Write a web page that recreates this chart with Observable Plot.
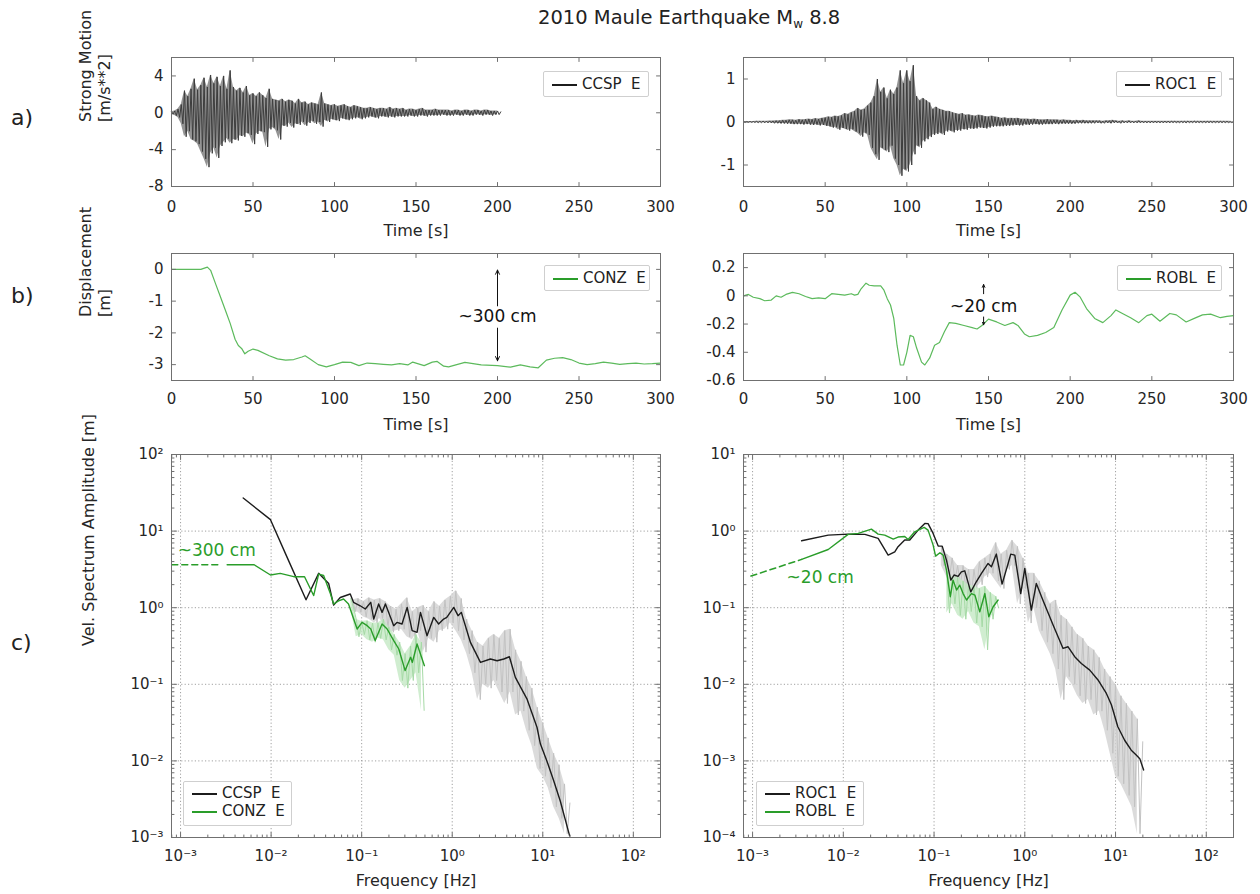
<!DOCTYPE html>
<html><head><meta charset="utf-8">
<script src="https://cdn.jsdelivr.net/npm/d3@7"></script>
<script src="https://cdn.jsdelivr.net/npm/@observablehq/plot@0.6"></script>
<style>
body{margin:0;background:#fff;font-family:"DejaVu Sans",sans-serif;color:#222}
#root{position:relative;width:1260px;height:894px;overflow:hidden;background:#fff}
.lbl{position:absolute;white-space:pre;line-height:1}
.legend{position:absolute;background:#fff;border:1px solid #cfcfcf;border-radius:2px;font-size:15px;color:#222;box-sizing:border-box}
.legend .row{position:absolute;white-space:pre;line-height:1}
.legend .ln{position:absolute;height:0;border-top:2px solid #111}
</style></head><body><div id="root"></div>
<script>
// ---------------- DATA ----------------
const timeTicks = [0, 50, 100, 150, 200, 250, 300];
const ccspTicksY = [4, 0, -4, -8];
const roc1TicksY = [1, 0, -1];
const conzTicksY = [0, -1, -2, -3];
const roblTicksY = [0.2, 0, -0.2, -0.4, -0.6];
const freqTicks = [1e-3, 1e-2, 1e-1, 1, 10, 100];
const freqTickLabels = ["10\u207B\u00B3", "10\u207B\u00B2", "10\u207B\u00B9", "10\u2070", "10\u00B9", "10\u00B2"];
const ampTicksLeft = [1e-3, 1e-2, 1e-1, 1, 10, 100];
const ampTickLabelsLeft = ["10\u207B\u00B3", "10\u207B\u00B2", "10\u207B\u00B9", "10\u2070", "10\u00B9", "10\u00B2"];
const ampTicksRight = [1e-4, 1e-3, 1e-2, 1e-1, 1, 10];
const ampTickLabelsRight = ["10\u207B\u2074", "10\u207B\u00B3", "10\u207B\u00B2", "10\u207B\u00B9", "10\u2070", "10\u00B9"];

// a) strong motion, peak values every 1 s (alternating up/down swings) [m/s^2]
const ccspStep = 1;
const ccspAcc = [
 0.1,-0.15,0.2,-0.3,0.4,-0.5,0.9,-1.2,2.4,-2.6,
 1.8,-2.0,2.6,-2.9,3.7,-3.1,2.5,-3.4,3.0,-4.2,
 3.8,-5.0,2.8,-5.9,4.1,-4.4,3.2,-3.8,3.9,-4.9,
 2.9,-3.6,4.0,-3.2,2.6,-2.8,4.6,-3.3,2.8,-2.9,
 2.4,-3.0,2.7,-2.5,2.2,-2.6,2.9,-2.2,1.9,-2.4,
 2.1,-3.4,1.8,-2.3,2.2,-2.0,1.9,-2.1,1.6,-3.7,
 2.6,-1.8,1.5,-1.6,1.4,-1.9,1.3,-2.9,1.5,-1.4,
 1.2,-1.5,1.4,-1.1,1.3,-1.6,1.0,-1.2,1.5,-1.3,
 1.1,-1.0,1.2,-1.4,0.9,-1.1,1.1,-0.9,1.0,-1.2,
 0.9,-1.0,2.2,-1.5,1.0,-0.8,0.9,-1.0,0.8,-0.7,
 0.9,-0.8,0.7,-0.9,0.8,-0.6,0.9,-0.7,0.7,-0.8,
 0.6,-0.7,0.8,-0.6,0.7,-0.5,0.6,-0.7,0.5,-0.6,
 0.5,-0.5,0.6,-0.4,0.5,-0.5,0.4,-0.6,0.5,-0.4,
 0.5,-0.4,0.4,-0.5,0.6,-0.4,0.4,-0.5,0.5,-0.4,
 0.4,-0.4,0.5,-0.4,0.3,-0.4,0.4,-0.3,0.4,-0.4,
 0.3,-0.4,0.4,-0.3,0.5,-0.3,0.3,-0.4,0.3,-0.3,
 0.3,-0.3,0.4,-0.3,0.3,-0.3,0.3,-0.2,0.3,-0.3,
 0.3,-0.3,0.2,-0.3,0.3,-0.2,0.3,-0.3,0.2,-0.3,
 0.3,-0.2,0.3,-0.3,0.2,-0.3,0.3,-0.2,0.3,-0.2,
 0.2,-0.3,0.3,-0.2,0.3,-0.2,0.2,-0.3,0.2,-0.2,
 0.2,-0.2,0.1
];
const roc1Step = 1;
const roc1Acc = [
 0.01,-0.01,0.01,-0.01,0.01,-0.01,0.01,-0.01,0.015,-0.015,
 0.015,-0.015,0.02,-0.02,0.02,-0.02,0.025,-0.02,0.025,-0.03,
 0.03,-0.03,0.03,-0.035,0.04,-0.035,0.04,-0.04,0.05,-0.04,
 0.05,-0.05,0.04,-0.05,0.06,-0.05,0.05,-0.06,0.06,-0.05,
 0.07,-0.06,0.06,-0.07,0.08,-0.06,0.07,-0.08,0.09,-0.07,
 0.1,-0.09,0.12,-0.1,0.11,-0.13,0.14,-0.12,0.13,-0.18,
 0.15,-0.14,0.2,-0.16,0.18,-0.2,0.22,-0.17,0.25,-0.22,
 0.32,-0.26,0.28,-0.34,0.3,-0.25,0.38,-0.3,0.45,-0.6,
 0.6,-0.75,1.0,-0.88,0.7,-0.6,0.8,-0.65,0.55,-0.7,
 0.75,-0.55,0.65,-0.85,0.8,-1.0,1.2,-1.25,0.9,-1.1,
 1.2,-1.15,0.95,-1.0,1.32,-0.75,0.6,-0.55,0.5,-0.6,
 0.55,-0.45,0.5,-0.4,0.45,-0.35,0.3,-0.3,0.35,-0.28,
 0.3,-0.25,0.28,-0.3,0.25,-0.22,0.25,-0.2,0.22,-0.24,
 0.2,-0.2,0.18,-0.2,0.2,-0.17,0.16,-0.18,0.17,-0.15,
 0.15,-0.16,0.14,-0.15,0.16,-0.13,0.15,-0.14,0.13,-0.15,
 0.12,-0.13,0.14,-0.11,0.12,-0.1,0.11,-0.1,0.09,-0.1,
 0.1,-0.09,0.08,-0.09,0.09,-0.08,0.08,-0.07,0.09,-0.08,
 0.07,-0.08,0.07,-0.06,0.07,-0.07,0.06,-0.06,0.07,-0.05,
 0.06,-0.06,0.05,-0.06,0.05,-0.05,0.06,-0.05,0.05,-0.05,
 0.05,-0.04,0.05,-0.05,0.04,-0.04,0.05,-0.04,0.04,-0.04,
 0.04,-0.04,0.03,-0.04,0.04,-0.03,0.03,-0.03,0.04,-0.03,
 0.03,-0.03,0.03,-0.03,0.03,-0.03,0.03,-0.02,0.03,-0.03,
 0.02,-0.03,0.03,-0.02,0.03,-0.03,0.04,-0.02,0.03,-0.02,
 0.02,-0.03,0.03,-0.02,0.02,-0.02,0.03,-0.02,0.02,-0.02,
 0.02,-0.02,0.03,-0.02,0.02,-0.02,0.02,-0.02,0.02,-0.02,
 0.02,-0.02,0.02,-0.02,0.02,-0.02,0.02,-0.02,0.02,-0.02,
 0.02,-0.02,0.02,-0.015,0.02,-0.02,0.015,-0.02,0.02,-0.015,
 0.015,-0.02,0.02,-0.015,0.015,-0.015,0.02,-0.015,0.015,-0.015,
 0.015,-0.015,0.015,-0.015,0.015,-0.015,0.015,-0.015,0.015,-0.015,
 0.015,-0.015,0.015,-0.015,0.015,-0.015,0.015,-0.015,0.015,-0.015,
 0.01
];

// b) displacement [m]
const conzT = [0,18,22,24,27,30,33,36,39,41,43,45,47,50,53,60,65,70,75,80,82,85,90,95,100,105,110,115,120,125,130,135,140,145,148,155,160,163,167,170,175,180,185,190,200,208,214,220,225,230,235,240,245,250,255,260,265,270,275,280,285,290,295,300];
const conzD = [0,0,0.07,-0.03,-0.45,-0.86,-1.28,-1.7,-2.2,-2.4,-2.49,-2.66,-2.58,-2.51,-2.55,-2.72,-2.82,-2.86,-2.84,-2.76,-2.72,-2.82,-3.0,-3.07,-3.0,-2.92,-2.93,-3.03,-2.95,-2.97,-2.99,-3.01,-2.97,-3.01,-2.92,-3.03,-2.92,-2.9,-3.05,-3.07,-3.0,-2.93,-2.97,-3.01,-3.03,-3.08,-3.01,-3.07,-3.1,-2.86,-2.8,-2.78,-2.84,-2.95,-3.0,-2.97,-2.92,-2.95,-2.99,-2.97,-2.95,-2.98,-2.97,-2.95];
const roblT = [0,3,6,10,13,17,20,23,26,30,34,38,42,46,50,54,58,62,66,68,70,72,75,77,80,84,86,88,90,92,94,96,98,100,102,104,106,109,111,114,117,120,123,126,130,135,140,143,146,150,155,160,165,168,172,175,180,185,190,195,200,203,206,210,215,220,225,228,232,237,242,247,250,255,261,265,271,276,281,286,292,296,300];
const roblD = [0,0.01,-0.01,-0.02,-0.035,-0.03,0,-0.01,0.01,0.025,0.015,-0.005,-0.02,-0.015,-0.02,0.015,0.01,0.005,0.015,0.005,0.01,0.05,0.09,0.075,0.07,0.07,0.04,-0.02,-0.065,-0.16,-0.35,-0.49,-0.49,-0.4,-0.28,-0.29,-0.37,-0.47,-0.49,-0.44,-0.35,-0.33,-0.255,-0.19,-0.195,-0.21,-0.225,-0.235,-0.21,-0.165,-0.185,-0.21,-0.19,-0.21,-0.27,-0.29,-0.28,-0.26,-0.225,-0.1,0.005,0.025,-0.007,-0.09,-0.16,-0.19,-0.14,-0.1,-0.125,-0.155,-0.19,-0.14,-0.13,-0.18,-0.125,-0.135,-0.185,-0.16,-0.135,-0.13,-0.155,-0.145,-0.14];

// c) velocity spectrum amplitude [m], smoothed
const ccspF = [0.00492,0.00984,0.01503,0.0243,0.0335,0.0432,0.049,0.058,0.0748,0.0813,0.0964,0.1096,0.126,0.136,0.154,0.168,0.183,0.226,0.245,0.279,0.318,0.361,0.409,0.446,0.527,0.625,0.708,0.804,0.871,1.04,1.16,1.26,1.59,2.05,2.64,3.13,3.71,4.28,4.98,6.68,8.63,9.42,11.1,13.2,15.6,19.8];
const ccspA = [27.0,14.1,4.54,1.27,2.81,2.07,1.08,1.36,1.51,1.175,1.06,0.962,1.175,0.711,1.117,0.869,1.117,0.582,0.643,0.612,1.01,0.501,0.476,0.869,0.431,0.748,0.612,0.711,0.748,1.01,0.787,0.869,0.352,0.193,0.214,0.203,0.214,0.229,0.123,0.0646,0.0275,0.0166,0.01,0.0055,0.003,0.00105];
const conzF = [0.00327,0.0065,0.00984,0.0126,0.0178,0.0234,0.0295,0.0335,0.038,0.0453,0.049,0.0556,0.0631,0.0716,0.0891,0.101,0.115,0.126,0.141,0.168,0.191,0.226,0.257,0.302,0.347,0.363,0.409,0.493];
const conzA = [3.64,3.64,2.67,2.81,2.54,2.54,1.44,2.75,2.63,1.51,1.117,1.23,1.30,1.117,0.527,0.643,0.582,0.527,0.372,0.612,0.527,0.372,0.289,0.151,0.225,0.193,0.336,0.175];
const conzExtF = [0.0008, 0.0028];
const conzExtA = [3.64, 3.64];
const roc1F = [0.00347,0.00682,0.0113,0.0173,0.0242,0.0312,0.0369,0.0401,0.0475,0.054,0.0668,0.0791,0.0859,0.0977,0.111,0.123,0.137,0.153,0.166,0.184,0.2,0.218,0.254,0.292,0.333,0.394,0.429,0.486,0.562,0.655,0.7,0.776,0.902,1.0,1.18,1.34,1.58,2.05,2.64,3.0,3.55,4.2,5.2,6.41,7.93,9.0,10.6,12.6,14.9,16.9,18.5,20.4];
const roc1A = [0.748,0.887,0.912,0.906,0.802,0.486,0.537,0.625,0.764,0.764,1.03,1.26,1.25,0.933,0.637,0.637,0.418,0.229,0.267,0.257,0.294,0.303,0.161,0.218,0.28,0.378,0.342,0.501,0.203,0.378,0.501,0.486,0.153,0.326,0.093,0.207,0.126,0.0593,0.0294,0.0309,0.0229,0.0187,0.0153,0.0114,0.0076,0.0054,0.00279,0.00186,0.00138,0.00119,0.00107,0.00076];
const roblF = [0.00347,0.00682,0.0113,0.0146,0.0204,0.0242,0.0286,0.0355,0.0401,0.0475,0.0518,0.0612,0.0778,0.0859,0.0977,0.104,0.116,0.126,0.137,0.151,0.162,0.177,0.192,0.209,0.228,0.258,0.282,0.319,0.363,0.401,0.448,0.508];
const roblA = [0.427,0.575,0.906,0.933,1.06,0.912,0.887,0.787,0.836,0.851,0.778,0.98,1.117,1.03,0.656,0.472,0.521,0.486,0.31,0.139,0.229,0.17,0.197,0.153,0.126,0.153,0.146,0.0885,0.153,0.0762,0.103,0.126];
const roblExtF = [0.00096, 0.00347];
const roblExtA = [0.259, 0.427];

// c) raw (unsmoothed) spectra: alternating high/low swings, log10 amplitude on an even log10-frequency grid
const ccspRawLogF0 = -1.1, ccspRawLogStep = 0.03;
const ccspRawLog10 = [0.10,-0.05,0.12,-0.06,0.08,-0.12,0.13,-0.15,0.10,-0.2,0.12,-0.14,0.08,-0.25,0.02,-0.32,-0.02,-0.3,0.05,-0.28,0.13,-0.38,-0.05,-0.42,0.0,-0.3,0.03,-0.58,-0.05,-0.4,0.08,-0.45,0.02,-0.3,0.1,-0.28,0.15,-0.2,0.22,-0.3,0.12,-0.42,-0.15,-0.6,-0.3,-0.85,-0.45,-1.2,-0.5,-1.0,-0.4,-1.05,-0.35,-0.95,-0.4,-1.1,-0.3,-1.25,-0.28,-1.1,-0.55,-1.4,-0.7,-1.35,-0.9,-1.6,-1.05,-1.8,-1.3,-2.1,-1.5,-2.2,-1.7,-2.35,-1.9,-2.6,-2.05,-2.75,-2.3,-2.95,-2.55];
const conzRawLogF0 = -1.12, conzRawLogStep = 0.03;
const conzRawLog10 = [0.12,0.0,-0.15,-0.38,-0.18,-0.35,-0.17,-0.42,-0.2,-0.45,-0.2,-0.4,-0.15,-0.42,-0.25,-0.55,-0.35,-0.62,-0.45,-0.95,-0.6,-1.05,-0.5,-0.95,-0.35,-0.85,-0.45,-1.34];
const roc1RawLogF0 = -0.92, roc1RawLogStep = 0.03;
const roc1RawLog10 = [-0.2,-0.45,-0.3,-0.6,-0.35,-0.65,-0.45,-0.7,-0.45,-0.75,-0.5,-0.85,-0.5,-0.75,-0.4,-0.7,-0.35,-0.6,-0.3,-0.55,-0.15,-0.65,-0.3,-0.75,-0.25,-0.5,-0.12,-0.45,-0.2,-0.95,-0.35,-0.75,-0.55,-1.2,-0.55,-1.0,-0.65,-1.3,-0.8,-1.45,-0.95,-1.6,-0.9,-1.8,-1.1,-2.2,-1.15,-1.9,-1.25,-2.0,-1.35,-2.15,-1.4,-2.25,-1.5,-2.2,-1.55,-2.4,-1.65,-2.35,-1.8,-2.6,-1.9,-2.9,-2.0,-3.2,-2.15,-3.3,-2.25,-3.45,-2.35,-3.6,-2.45,-3.95,-2.75];
const roblRawLogF0 = -0.86, roblRawLogStep = 0.03;
const roblRawLog10 = [-0.5,-1.07,-0.6,-0.95,-0.6,-1.1,-0.65,-1.15,-0.7,-1.05,-0.72,-1.2,-0.75,-1.25,-0.72,-1.55,-0.8,-1.15,-0.85,-1.0];

// annotations
const bLeftArrows = [{x1:200,y1:-1.15,x2:200,y2:-0.02},{x1:200,y1:-1.85,x2:200,y2:-2.88}];
const bLeftNote = [{x:200,y:-1.5,text:"~300 cm"}];
const bRightArrows = [{x1:147,y1:0.015,x2:147,y2:0.08},{x1:147,y1:-0.15,x2:147,y2:-0.205}];
const bRightNote = [{x:147,y:-0.078,text:"~20 cm"}];
const cLeftNote = [{x:0.00093,y:5.55,text:"~300 cm"}];
const cRightNote = [{x:0.00237,y:0.251,text:"~20 cm"}];

// ---------------- HELPERS ----------------
const root = document.getElementById("root");
const FONT = "DejaVu Sans, sans-serif";
const BLACK = "#1c1c1c", GREEN = "#2a9d2a", DISP_GREEN = "#5cba5c", SEIS = "#3d3d3d";
const RAW_GRAY = "#c2c2c2", RAW_GRAY_FILL = "#d2d2d2", RAW_GREEN = "#a6daa6", FRAME = "#707070";

function place(el, left, top) {
  el.style.position = "absolute"; el.style.left = left + "px"; el.style.top = top + "px";
  root.appendChild(el); return el;
}
const zipXY = (xs, ys) => xs.map((x, i) => ({x, y: ys[i]}));
const trace = (vals, step) => vals.map((v, i) => ({x: i * step, y: v}));
// pair consecutive up/down swings into a band (upper = swing i, lower = swing i+1)
const swingBand = (pts) => {
  const out = [];
  for (let i = 0; i + 1 < pts.length; i += 2) {
    const a = pts[i], b = pts[i + 1];
    out.push({x: a.x, y1: Math.min(a.y, b.y), y2: Math.max(a.y, b.y)});
  }
  return out;
};
const rawSeries = (f0, step, vals) => vals.map((v, i) => ({x: Math.pow(10, f0 + i * step), y: Math.pow(10, v)}));
const tickShape = {draw(ctx, l) { ctx.moveTo(0, 0); ctx.lineTo(0, -l); }};
function innerTicks(xs, ys, len) {
  const o = {length: len, anchor: "start", shape: tickShape, stroke: FRAME, strokeWidth: 1};
  return [
    Plot.vector(xs, {...o, x: d => d, frameAnchor: "bottom", rotate: 0}),
    Plot.vector(xs, {...o, x: d => d, frameAnchor: "top", rotate: 180}),
    Plot.vector(ys, {...o, y: d => d, frameAnchor: "left", rotate: 90}),
    Plot.vector(ys, {...o, y: d => d, frameAnchor: "right", rotate: -90})
  ];
}
function logMinor(lo, hi) {
  const out = [];
  for (let e = Math.floor(Math.log10(lo)); e <= Math.ceil(Math.log10(hi)); e++)
    for (let k = 2; k <= 9; k++) { const v = k * Math.pow(10, e); if (v > lo && v < hi) out.push(v); }
  return out;
}
const lin = d => String(d);
const style = {fontFamily: FONT, fontSize: "15px", color: "#262626", background: "transparent", overflow: "visible"};

function panel(left, top, width, height, m, x, y, marks) {
  const p = Plot.plot({width, height, marginLeft: m[0], marginRight: m[1], marginTop: m[2], marginBottom: m[3],
    x: {...x, label: null}, y: {...y, label: null}, style, marks});
  return place(p, left, top);
}
function timeAxes(yTicks, titles, pad) {
  const marks = [
    Plot.frame({stroke: FRAME}),
    ...innerTicks(timeTicks, yTicks, 4),
    Plot.axisX({ticks: timeTicks, tickSize: 0, tickPadding: pad, tickFormat: lin, fontSize: 15, label: null}),
    Plot.axisY({ticks: yTicks, tickSize: 0, tickPadding: 8, tickFormat: lin, fontSize: 15, label: null}),
    Plot.text(["Time [s]"], {frameAnchor: "bottom", dy: 49, fontSize: 16, fill: "#262626"})
  ];
  titles.forEach(t => marks.push(Plot.text([t.text], {frameAnchor: "left", dx: t.dx, rotate: -90, fontSize: 16, fill: "#262626"})));
  return marks;
}
function specAxes(yTicks, yLabels, yDomain, withTitle) {
  const xDom = [Math.pow(10, -3.1), Math.pow(10, 2.3)];
  const marks = [
    Plot.gridX({ticks: freqTicks, stroke: "#8a8a8a", strokeOpacity: 0.8, strokeDasharray: "1.2,2.2"}),
    Plot.gridY({ticks: yTicks, stroke: "#8a8a8a", strokeOpacity: 0.8, strokeDasharray: "1.2,2.2"}),
    Plot.frame({stroke: FRAME}),
    ...innerTicks(freqTicks, yTicks, 5),
    ...innerTicks(logMinor(xDom[0], xDom[1]), logMinor(yDomain[0], yDomain[1]), 2.5),
    Plot.axisX({ticks: freqTicks, tickSize: 0, tickPadding: 13, tickFormat: d => freqTickLabels[freqTicks.indexOf(d)], fontSize: 15, label: null}),
    Plot.axisY({ticks: yTicks, tickSize: 0, tickPadding: 8, tickFormat: d => yLabels[yTicks.indexOf(d)], fontSize: 15, label: null}),
    Plot.text(["Frequency [Hz]"], {frameAnchor: "bottom", dy: 48, fontSize: 16, fill: "#262626"})
  ];
  if (withTitle) marks.push(Plot.text(["Vel. Spectrum Amplitude [m]"], {frameAnchor: "left", dx: -83, rotate: -90, fontSize: 16, fill: "#262626"}));
  return {marks, xDom};
}
function seismo(vals, step) {
  const pts = trace(vals, step);
  return [
    Plot.areaY(swingBand(pts), {x: "x", y1: "y1", y2: "y2", fill: SEIS, fillOpacity: 0.55}),
    Plot.line(pts, {x: "x", y: "y", stroke: SEIS, strokeWidth: 1})
  ];
}
function rawSpec(f0, step, vals, stroke, fill) {
  const pts = rawSeries(f0, step, vals);
  return [
    Plot.areaY(swingBand(pts), {x: "x", y1: "y1", y2: "y2", fill, fillOpacity: 0.8}),
    Plot.line(pts, {x: "x", y: "y", stroke, strokeWidth: 1})
  ];
}

// ---------------- PANEL a ----------------
panel(0, 40, 680, 200, [171, 20, 17, 54],
  {domain: [0, 300]}, {domain: [-8, 6]},
  [...seismo(ccspAcc, ccspStep),
   ...timeAxes(ccspTicksY, [{text: "Strong Motion", dx: -86}, {text: "[m/s**2]", dx: -67}], 15)]);
panel(680, 40, 570, 200, [63, 17, 17, 54],
  {domain: [0, 300]}, {domain: [-1.5, 1.5]},
  [...seismo(roc1Acc, roc1Step),
   ...timeAxes(roc1TicksY, [], 15)]);

// ---------------- PANEL b ----------------
panel(0, 240, 680, 200, [171, 20, 13, 60],
  {domain: [0, 300]}, {domain: [-3.5, 0.5]},
  [Plot.line(zipXY(conzT, conzD), {x: "x", y: "y", stroke: DISP_GREEN, strokeWidth: 1.2}),
   Plot.arrow(bLeftArrows, {x1: "x1", y1: "y1", x2: "x2", y2: "y2", stroke: "#111", strokeWidth: 1, headLength: 7, headAngle: 50}),
   Plot.text(bLeftNote, {x: "x", y: "y", text: "text", fontSize: 17, fill: "#111"}),
   ...timeAxes(conzTicksY, [{text: "Displacement", dx: -86}, {text: "[m]", dx: -67}], 13)]);
panel(680, 240, 570, 200, [63, 17, 13, 60],
  {domain: [0, 300]}, {domain: [-0.6, 0.3]},
  [Plot.line(zipXY(roblT, roblD), {x: "x", y: "y", stroke: DISP_GREEN, strokeWidth: 1.2}),
   Plot.arrow(bRightArrows, {x1: "x1", y1: "y1", x2: "x2", y2: "y2", stroke: "#111", strokeWidth: 1, headLength: 5, headAngle: 50}),
   Plot.text(bRightNote, {x: "x", y: "y", text: "text", fontSize: 17, fill: "#111"}),
   ...timeAxes(roblTicksY, [], 13)]);

// ---------------- PANEL c ----------------
{
  const yDom = [1e-3, 1e2];
  const {marks, xDom} = specAxes(ampTicksLeft, ampTickLabelsLeft, yDom, true);
  panel(0, 440, 680, 454, [171, 20, 14, 57],
    {type: "log", domain: xDom}, {type: "log", domain: yDom},
    [marks[0], marks[1],
     ...rawSpec(ccspRawLogF0, ccspRawLogStep, ccspRawLog10, RAW_GRAY, RAW_GRAY_FILL),
     ...rawSpec(conzRawLogF0, conzRawLogStep, conzRawLog10, RAW_GREEN, "#c4e8c4"),
     Plot.line(zipXY(conzExtF, conzExtA), {x: "x", y: "y", stroke: GREEN, strokeWidth: 1.5, strokeDasharray: "6,4"}),
     Plot.line(zipXY(ccspF, ccspA), {x: "x", y: "y", stroke: BLACK, strokeWidth: 1.4}),
     Plot.line(zipXY(conzF, conzA), {x: "x", y: "y", stroke: GREEN, strokeWidth: 1.4}),
     Plot.text(cLeftNote, {x: "x", y: "y", text: "text", fontSize: 17, fill: GREEN, textAnchor: "start"}),
     ...marks.slice(2)]);
}
{
  const yDom = [1e-4, 1e1];
  const {marks, xDom} = specAxes(ampTicksRight, ampTickLabelsRight, yDom, false);
  panel(680, 440, 570, 454, [63, 17, 14, 57],
    {type: "log", domain: xDom}, {type: "log", domain: yDom},
    [marks[0], marks[1],
     ...rawSpec(roc1RawLogF0, roc1RawLogStep, roc1RawLog10, RAW_GRAY, RAW_GRAY_FILL),
     ...rawSpec(roblRawLogF0, roblRawLogStep, roblRawLog10, RAW_GREEN, "#c4e8c4"),
     Plot.line(zipXY(roblExtF, roblExtA), {x: "x", y: "y", stroke: GREEN, strokeWidth: 1.5, strokeDasharray: "6,4"}),
     Plot.line(zipXY(roc1F, roc1A), {x: "x", y: "y", stroke: BLACK, strokeWidth: 1.4}),
     Plot.line(zipXY(roblF, roblA), {x: "x", y: "y", stroke: GREEN, strokeWidth: 1.4}),
     Plot.text(cRightNote, {x: "x", y: "y", text: "text", fontSize: 17, fill: GREEN, textAnchor: "start"}),
     ...marks.slice(2)]);
}

// ---------------- TEXT OVERLAYS ----------------
function label(html, left, top, size) {
  const d = document.createElement("div"); d.className = "lbl"; d.innerHTML = html;
  d.style.fontSize = size + "px"; return place(d, left, top);
}
label('2010 Maule Earthquake M<sub style="font-size:12px;vertical-align:-4px">w</sub> 8.8', 538, 8, 19.5);
label("a)", 11, 107, 22);
label("b)", 11, 285, 22);
label("c)", 11, 632, 22);

function legend(left, top, w, h, rows) {
  const d = document.createElement("div"); d.className = "legend";
  d.style.width = w + "px"; d.style.height = h + "px";
  rows.forEach(r => {
    const ln = document.createElement("div"); ln.className = "ln";
    ln.style.left = "8px"; ln.style.width = "25px"; ln.style.top = (r.y - 1) + "px"; ln.style.borderTopColor = r.color;
    const t = document.createElement("div"); t.className = "row"; t.textContent = r.text;
    t.style.left = "38px"; t.style.top = (r.y - 8) + "px";
    d.appendChild(ln); d.appendChild(t);
  });
  return place(d, left, top);
}
legend(543, 71, 106, 26, [{text: "CCSP  E", color: BLACK, y: 13}]);
legend(1116, 71, 106, 26, [{text: "ROC1  E", color: BLACK, y: 13}]);
legend(544, 265, 106, 26, [{text: "CONZ  E", color: GREEN, y: 13}]);
legend(1117, 265, 105, 26, [{text: "ROBL  E", color: GREEN, y: 13}]);
legend(183, 781, 109, 45, [{text: "CCSP  E", color: BLACK, y: 12}, {text: "CONZ  E", color: GREEN, y: 30}]);
legend(756, 781, 108, 45, [{text: "ROC1  E", color: BLACK, y: 12}, {text: "ROBL  E", color: GREEN, y: 30}]);
</script></body></html>
